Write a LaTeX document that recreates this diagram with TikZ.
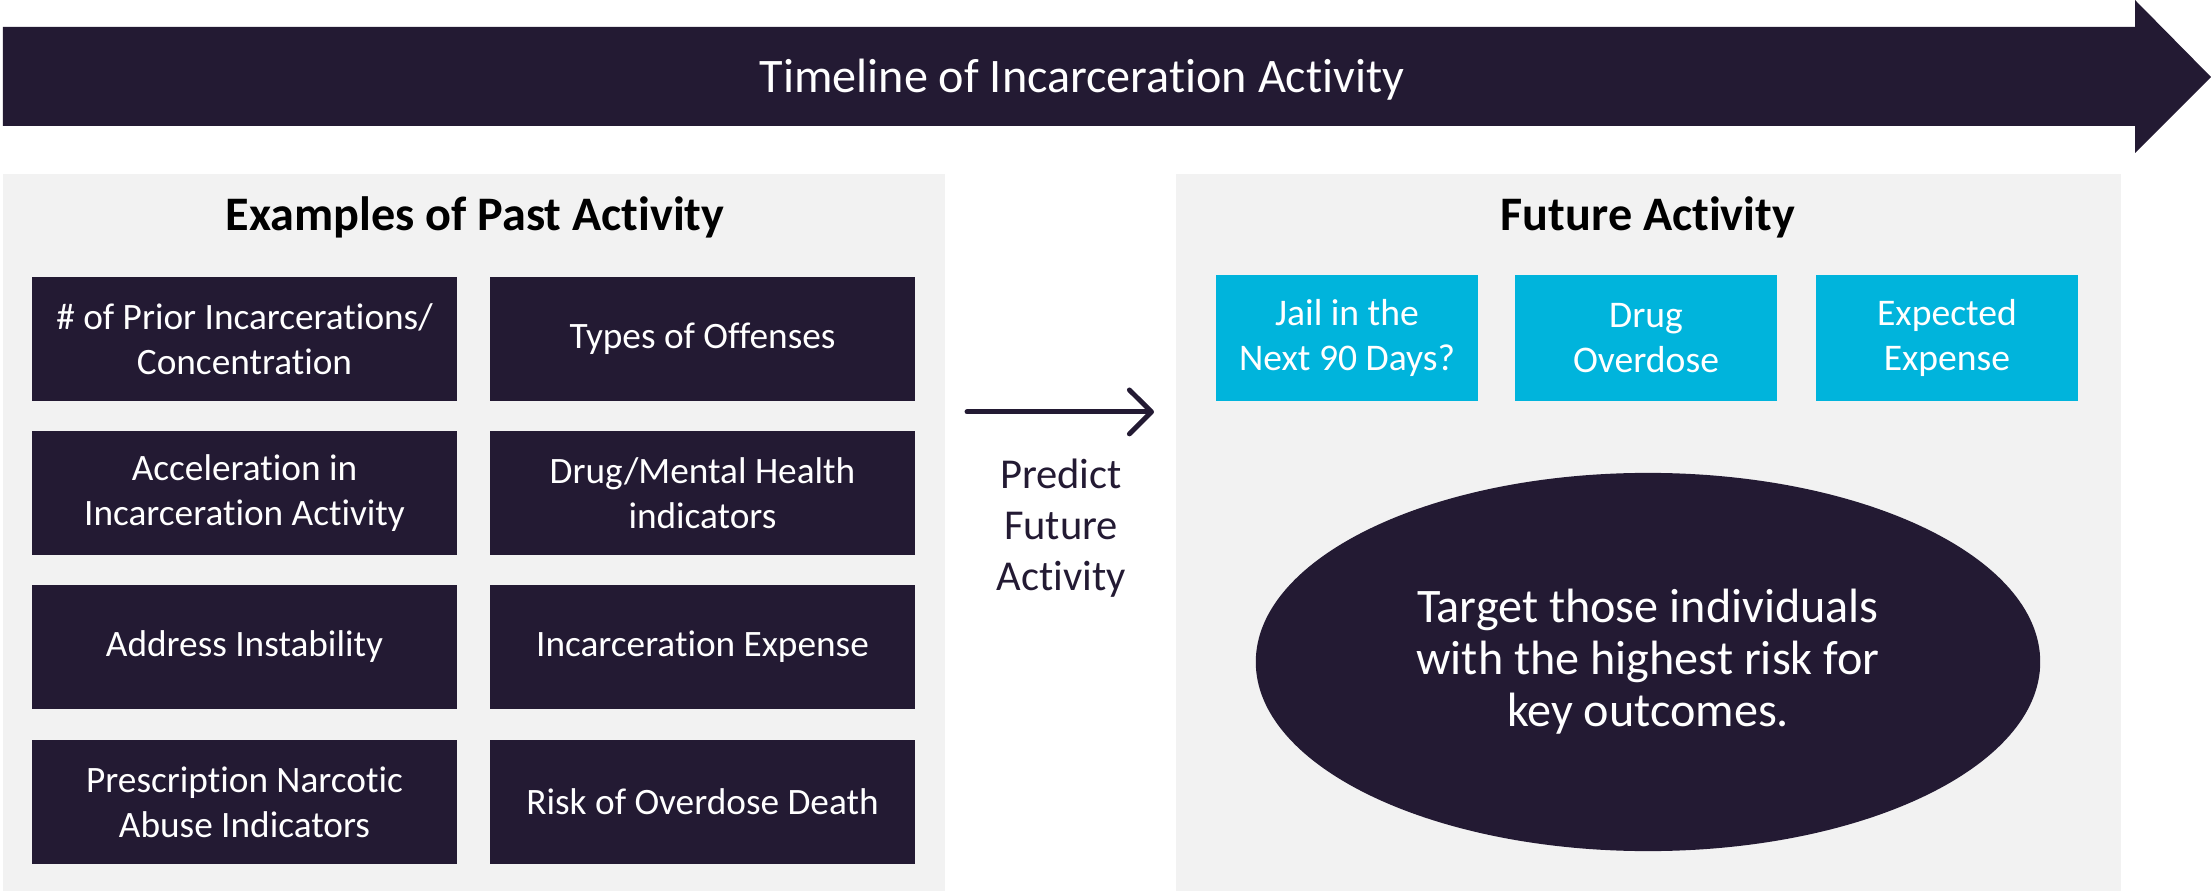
\documentclass[tikz,border=0pt]{standalone}
\usepackage{fontspec}
\setmainfont[Ligatures=NoCommon]{Carlito}
\usetikzlibrary{arrows.meta,shapes.geometric}

\definecolor{timelineNavy}{RGB}{35,26,51}
\definecolor{futureCyan}{RGB}{0,180,220}
\definecolor{panelGray}{RGB}{242,242,242}

\tikzset{
  panel/.style={fill=panelGray, inner sep=0pt, minimum width=9.42cm, minimum height=7.17cm},
  paneltitle/.style={font=\fontsize{13.7}{16}\selectfont\bfseries, text=black, inner sep=0pt},
  pastbox/.style={fill=timelineNavy, text=white, align=center, inner sep=0pt,
    minimum width=4.24cm, minimum height=1.24cm, font=\fontsize{10.6}{12.8}\selectfont},
  futurebox/.style={fill=futureCyan, text=white, align=center, inner sep=0pt,
    minimum width=2.62cm, minimum height=1.26cm, font=\fontsize{10.7}{12.8}\selectfont},
  predictarrow/.style={draw=timelineNavy, line width=1.4pt, line cap=round,
    -{Straight Barb[length=6.3pt, width=12.5pt, line cap=round, line join=round]}},
}

\begin{document}
\begin{tikzpicture}
% all positions in pixels of the original slide
\def\px{0.01cm}
\begin{scope}[x=\px, y=-\px]
  \useasboundingbox (0,0) rectangle (2211,891);
  % Timeline arrow across the top
  \fill[timelineNavy] (3,27) -- (2135,27) -- (2135,0) -- (2211,77) -- (2135,153) -- (2135,126) -- (3,126) -- cycle;
  \node[text=white, font=\fontsize{13.7}{16}\selectfont, inner sep=0pt] (timeline) at (1082,80) {Timeline of Incarceration Activity};

  % Panels
  \node[panel] (past) at (474,532.5) {};
  \node[panel, minimum width=9.45cm] (future) at (1648.5,532.5) {};
  \node[paneltitle] (pasttitle) at (475,217) {Examples of Past Activity};
  \node[paneltitle] (futuretitle) at (1648,217) {Future Activity};

  % Past activity boxes
  \node[pastbox] (prior) at (244.5,339) {\# of Prior Incarcerations/\\Concentration};
  \node[pastbox] (offenses) at (702.5,339) {Types of Offenses};
  \node[pastbox] (accel) at (244.5,493) {Acceleration in\\Incarceration Activity};
  \node[pastbox] (mental) at (702.5,493) {Drug/Mental Health\\indicators};
  \node[pastbox] (address) at (244.5,647) {Address Instability};
  \node[pastbox] (expense) at (702.5,647) {Incarceration Expense};
  \node[pastbox] (narcotic) at (244.5,802) {Prescription Narcotic\\Abuse Indicators};
  \node[pastbox] (overdosedeath) at (702.5,802) {Risk of Overdose Death};

  % Predict arrow between the panels
  \draw[predictarrow] ([xshift=0.21cm,yshift=1.205cm]past.east) -- ([xshift=-0.21cm,yshift=1.205cm]future.west);
  \node[text=timelineNavy, align=center, font=\fontsize{12.1}{14.5}\selectfont, inner sep=0pt] (predict) at (1061,528) {Predict\\Future\\Activity};

  % Future activity boxes
  \node[futurebox] (jail) at (1347,338) {Jail in the\\Next 90 Days?};
  \node[futurebox] (overdose) at (1646,338) {Drug\\Overdose};
  \node[futurebox] (futureexpense) at (1947,338) {Expected\\Expense};

  % Target ellipse
  \node[ellipse, fill=timelineNavy, text=white, align=center, inner sep=0pt,
    minimum width=7.84cm, minimum height=3.78cm, font=\fontsize{13.7}{14.8}\selectfont] (target) at (1648,662)
    {Target those individuals\\with the highest risk for\\key outcomes.};
\end{scope}
\end{tikzpicture}
\end{document}
